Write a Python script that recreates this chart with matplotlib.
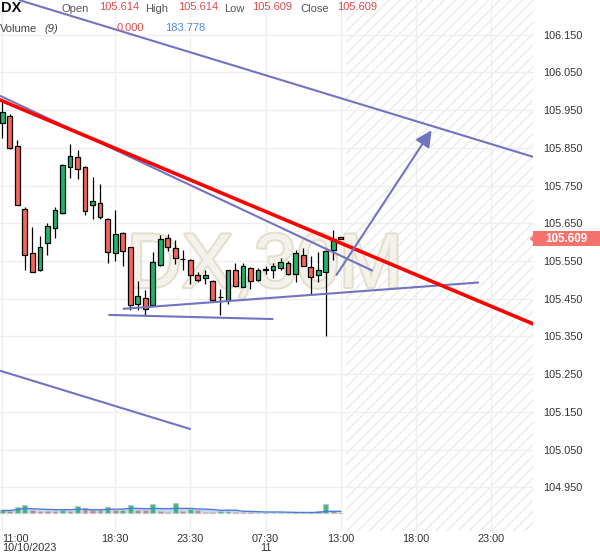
import numpy as np
import pandas as pd
import matplotlib
matplotlib.use("Agg")
from matplotlib import pyplot as plt
from matplotlib.patches import FancyArrowPatch, Rectangle, Polygon
import matplotlib.patheffects as pe

# --- data (30 min bars, DX) ---
opens = [105.916, 105.934, 105.854, 105.687, 105.571, 105.527, 105.598, 105.637, 105.677, 105.799,
         105.825, 105.799, 105.698, 105.703, 105.662, 105.571, 105.624, 105.586, 105.437, 105.452,
         105.432, 105.540, 105.611, 105.584, 105.554, 105.553, 105.513, 105.504, 105.496, 105.454,
         105.447, 105.525, 105.482, 105.532, 105.500, 105.526, 105.525, 105.532, 105.545, 105.516,
         105.566, 105.535, 105.514, 105.520, 105.579, 105.614]
closes = [105.944, 105.850, 105.698, 105.566, 105.520, 105.588, 105.643, 105.686, 105.804, 105.828,
          105.793, 105.683, 105.709, 105.667, 105.574, 105.621, 105.576, 105.434, 105.457, 105.422,
          105.547, 105.608, 105.588, 105.558, 105.554, 105.514, 105.500, 105.513, 105.447, 105.454,
          105.525, 105.483, 105.537, 105.496, 105.527, 105.528, 105.536, 105.548, 105.516, 105.571,
          105.538, 105.507, 105.527, 105.577, 105.608, 105.609]
highs = [105.978, 105.940, 105.872, 105.692, 105.641, 105.617, 105.652, 105.692, 105.806, 105.861,
         105.843, 105.801, 105.773, 105.753, 105.664, 105.686, 105.626, 105.588, 105.498, 105.472,
         105.573, 105.619, 105.622, 105.606, 105.579, 105.555, 105.522, 105.525, 105.500, 105.476,
         105.527, 105.544, 105.544, 105.534, 105.532, 105.536, 105.544, 105.557, 105.551, 105.579,
         105.585, 105.562, 105.575, 105.580, 105.632, 105.614]
lows = [105.876, 105.846, 105.698, 105.527, 105.520, 105.524, 105.566, 105.611, 105.675, 105.769,
        105.767, 105.672, 105.661, 105.661, 105.544, 105.551, 105.536, 105.419, 105.419, 105.403,
        105.430, 105.538, 105.577, 105.542, 105.525, 105.488, 105.494, 105.490, 105.441, 105.406,
        105.437, 105.481, 105.480, 105.476, 105.496, 105.516, 105.504, 105.527, 105.513, 105.494,
        105.536, 105.463, 105.494, 105.352, 105.553, 105.609]
volumes = [280, 270, 610, 880, 280, 260, 200, 190, 300, 260,
           740, 590, 360, 350, 630, 330, 380, 850, 360, 350,
           960, 190, 110, 1130, 190, 410, 300, 80, 75, 220,
           250, 110, 100, 60, 55, 50, 55, 50, 45, 60,
           55, 70, 190, 990, 180, 0]

tick_pos = [0, 15, 25, 35, 45, 55, 65]
tick_labels = ["11:00\n10/10/2023", "18:30", "23:30", "07:30\n11", "13:00", "18:00", "23:00"]
price_ticks = [104.95, 105.05, 105.15, 105.25, 105.35, 105.45, 105.55,
               105.65, 105.75, 105.85, 105.95, 106.05, 106.15]
last_price = 105.609

# drawn tools: (bar, price) pairs
channel_top = [(2.2, 106.242), (70.6, 105.826)]
channel_bottom = [(-0.31, 105.259), (25.05, 105.104)]
wedge_top = [(-0.31, 105.988), (49.26, 105.524)]
red_trend = [(-0.31, 105.977), (70.6, 105.383)]
support_up = [(16.01, 105.423), (63.39, 105.493)]
support_flat = [(14.10, 105.407), (36.04, 105.396)]
target_arrow = [(44.24, 105.507), (57.28, 105.903)]

GREEN = "#1db56e"
RED = "#f4665c"
PURPLE = "#7373c2"

plt.rcParams["font.family"] = ["Liberation Sans", "DejaVu Sans"]
plt.rcParams["hatch.linewidth"] = 0.8

fig = plt.figure(figsize=(6, 5.58), dpi=100)
ax = fig.add_axes([0, 27 / 558, 533 / 600, 531 / 558])

# volume on its own scale at the bottom (created first, twinx resets tick side)
ax2 = ax.twinx()

ax.set_xlim(-0.31, 70.57)
ax.set_ylim(104.834, 106.242)
for s in list(ax.spines.values()) + list(ax2.spines.values()):
    s.set_visible(False)

ax.set_yticks(price_ticks)
ax.set_yticklabels([f"{t:.3f}" for t in price_ticks])
ax.yaxis.tick_right()
ax.set_xticks(tick_pos)
ax.set_xticklabels(tick_labels, linespacing=0.95)
ax.get_xticklabels()[0].set_horizontalalignment("left")
ax.tick_params(length=0, labelsize=7.8, colors="#333333")
ax.tick_params(axis="y", pad=7)
ax.tick_params(axis="x", pad=2)
ax.grid(color="#efefef", lw=1, zorder=0)
ax.set_axisbelow(True)

# future area
ax.axvspan(45.7, 71, facecolor="none", edgecolor="#e8e8e8", hatch="///", lw=0, zorder=0.5)

# watermark
ax.text(34.9, 105.481, "DX,30M", fontsize=55, color="#f4f2eb", ha="center", va="baseline",
        zorder=1, path_effects=[pe.withStroke(linewidth=3, foreground="#e4e0cf")])

# candles
o = np.array(opens)
c = np.array(closes)
idx = np.arange(len(o))
cols = np.where(c >= o, GREEN, RED)
ax.vlines(idx, lows, highs, color="black", lw=0.9, zorder=4)
ax.bar(idx, np.maximum(np.abs(c - o), 0.0006), bottom=np.minimum(o, c), width=0.64,
       color=cols, edgecolor="black", lw=0.9, zorder=5)

ax2.set_ylim(-1980, 56430)
ax2.set_yticks([])
vol = pd.Series(volumes, dtype=float)
vma = vol.rolling(9, min_periods=1).mean()
vcols = ["#25b57c" if i == 0 or vol[i] >= vol[i - 1] else "#b87a88" for i in range(len(vol))]
ax2.fill_between(idx, 0, vma, color="#bcd0f3", alpha=0.8, lw=0, zorder=1)
ax2.bar(idx, vol, width=0.64, color=vcols, edgecolor="#c4c4c4", lw=0.8, alpha=0.9, zorder=2)
ax2.plot(idx, vma, color="#4a7fd6", lw=1, zorder=3)

# trend lines
for seg in [channel_top, channel_bottom, wedge_top, support_up, support_flat]:
    xs, ys = zip(*seg)
    ax.plot(xs, ys, color=PURPLE, lw=1.5, zorder=6, solid_capstyle="butt")
xs, ys = zip(*red_trend)
ax.plot(xs, ys, color="#ff0000", lw=2.6, zorder=7)
arrow = FancyArrowPatch(target_arrow[0], target_arrow[1], arrowstyle="-|>,head_length=0.7,head_width=0.35",
                        mutation_scale=14, color=PURPLE, lw=1.5, zorder=7)
ax.add_patch(arrow)

# last price tag
tr = ax.get_yaxis_transform()
h = 0.0205
ax.add_patch(Rectangle((1.0, last_price - h), 67 / 533, 2 * h, transform=tr,
                       facecolor="#f4726b", edgecolor="none", clip_on=False, zorder=8))
ax.add_patch(Polygon([(1.0, last_price + 0.009), (0.994, last_price), (1.0, last_price - 0.009)],
                     closed=True, transform=tr, facecolor="#f4726b", edgecolor="none",
                     clip_on=False, zorder=8))
ax.text(1.063, last_price, f"{last_price:.3f}", transform=tr, ha="center", va="center",
        color="white", fontsize=8.4, fontweight="bold", zorder=9, clip_on=False)

# header
def ftext(px, py, s, **kw):
    fig.text(px / 600, 1 - py / 558, s, va="center", ha="left", **kw)

ftext(1, 8, "DX", fontsize=10.5, fontweight="bold", color="#111111")
header = [(62, "Open", "#555555", 9), (99, "105.614", "#dd4b4b", 7),
          (145, "High", "#555555", 9), (178, "105.614", "#dd4b4b", 7),
          (224, "Low", "#555555", 9), (252, "105.609", "#dd4b4b", 7),
          (300, "Close", "#555555", 9), (337, "105.609", "#dd4b4b", 7)]
for px, s, col, py in header:
    ftext(px, py, s, fontsize=8, color=col)
ftext(0, 29, "Volume", fontsize=8, color="#444444")
ftext(44, 29, "(9)", fontsize=8, color="#444444", style="italic")
ftext(117, 28, "0.000", fontsize=8, color="#dd4b4b")
ftext(165, 28, "183.778", fontsize=8, color="#4f8ae0")

fig.savefig("out.png", dpi=100)
